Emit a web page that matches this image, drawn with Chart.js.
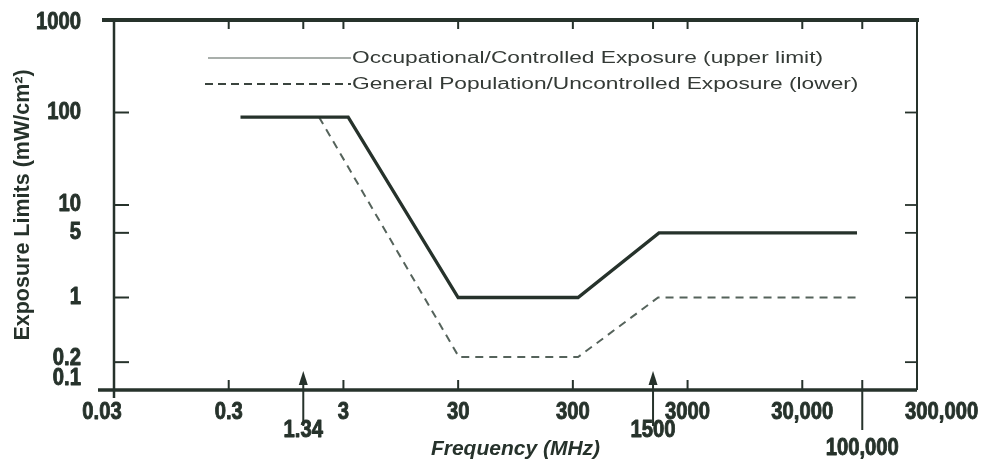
<!DOCTYPE html>
<html>
<head>
<meta charset="utf-8">
<script src="https://cdn.jsdelivr.net/npm/chart.js@4.4.1/dist/chart.umd.min.js"></script>
<style>
  html, body { margin: 0; padding: 0; background: #ffffff; }
  #wrap { width: 982px; height: 463px; position: relative; }
</style>
</head>
<body>
<div id="wrap"><canvas id="c" width="982" height="463"></canvas></div>
<script>
// ---- data ----
const occLabel = 'Occupational/Controlled Exposure (upper limit)';
const occFreq  = [0.38, 3.3, 30, 333, 1690, 90000];
const occLimit = [89, 89, 1, 1, 5, 5];

const genLabel = 'General Population/Uncontrolled Exposure (lower)';
const genFreq  = [1.84, 30.5, 333, 1660, 90000];
const genLimit = [89, 0.227, 0.227, 1, 1];

const xTickValues = [0.03, 0.3, 1.34, 3, 30, 300, 1500, 3000, 30000, 100000, 300000];
const xTickLabels = ['0.03', '0.3', '1.34', '3', '30', '300', '1500', '3000', '30,000', '100,000', '300,000'];
const xTickRows   = [0, 0, 1, 0, 0, 0, 1, 0, 0, 2, 0];
const xArrowTicks = [1.34, 1500];
const xLongTicks  = [100000];

const yTickValues = [0.1, 0.2, 1, 5, 10, 100, 1000];
const yTickLabels = ['0.1', '0.2', '1', '5', '10', '100', '1000'];

const xTitle = 'Frequency (MHz)';
const yTitle = 'Exposure Limits (mW/cm²)';

// ---- styles ----
const INK = '#26322b';
const SANS = "'Liberation Sans', Arial, sans-serif";
const TICK_FONT = 'bold 23px ' + SANS;
const TICK_SQUEEZE = 0.88;

const toPts = (xs, ys) => xs.map((x, i) => ({ x: x, y: ys[i] }));

function squeezedText(c, text, x, y, align, sx, stroke) {
  c.save();
  c.translate(x, y);
  c.scale(sx, 1);
  c.textAlign = align;
  if (stroke) { c.lineWidth = stroke; c.lineJoin = 'round'; c.strokeText(text, 0, 0); }
  c.fillText(text, 0, 0);
  c.restore();
}

const framePlugin = {
  id: 'frame',
  beforeDraw(chart) {
    const c = chart.ctx;
    c.save();
    c.fillStyle = '#ffffff';
    c.fillRect(0, 0, chart.width, chart.height);
    c.restore();
  },
  afterDraw(chart) {
    const c = chart.ctx;
    const a = chart.chartArea;
    const xs = chart.scales.x, ys = chart.scales.y;
    c.save();
    c.strokeStyle = INK;
    c.fillStyle = INK;
    c.lineCap = 'butt';
    const line = (x1, y1, x2, y2, w) => {
      c.lineWidth = w; c.beginPath(); c.moveTo(x1, y1); c.lineTo(x2, y2); c.stroke();
    };
    // frame
    line(a.left - 12, a.top, a.right + 2, a.top, 4);          // top
    line(a.left, a.top, a.left, a.bottom + 8, 2.5);           // left
    line(a.right, a.top, a.right, a.bottom, 2);               // right
    line(a.left - 16, a.bottom, a.right, a.bottom, 3.5);      // bottom
    // y ticks (inward, both sides)
    yTickValues.forEach(v => {
      if (v === ys.min || v === ys.max) return;
      const py = ys.getPixelForValue(v);
      line(a.left, py, a.left + 15, py, 2);
      line(a.right, py, a.right - 12, py, 1.8);
    });
    // x ticks
    xTickValues.forEach((v, i) => {
      if (v === xs.min || v === xs.max) return;
      const px = xs.getPixelForValue(v);
      line(px, a.top, px, a.top + 9, 2);
      if (xTickRows[i] === 0) line(px, a.bottom, px, a.bottom - 10, 2);
    });
    // arrows
    xArrowTicks.forEach(v => {
      const px = xs.getPixelForValue(v);
      line(px, a.bottom - 8, px, a.bottom + 36, 2);
      c.beginPath();
      c.moveTo(px, a.bottom - 19);
      c.lineTo(px - 4.5, a.bottom - 5);
      c.lineTo(px + 4.5, a.bottom - 5);
      c.closePath();
      c.fill();
    });
    xLongTicks.forEach(v => {
      const px = xs.getPixelForValue(v);
      line(px, a.bottom - 10, px, a.bottom + 40, 2);
    });

    // tick labels (condensed heavy bold, from the scales' own ticks)
    c.font = TICK_FONT;
    c.fillStyle = INK;
    c.strokeStyle = INK;
    c.textBaseline = 'middle';
    const nx = xs.ticks.length;
    xs.ticks.forEach((t, i) => {
      const lab = Array.isArray(t.label) ? t.label : [t.label];
      const row = lab.length - 1;
      const text = lab[row];
      let px = xs.getPixelForValue(t.value);
      let align = 'center';
      if (i === 0) px -= 12;
      if (i === nx - 1) { px -= 12; align = 'left'; }
      squeezedText(c, text, px, a.bottom + 23 + row * 18, align, TICK_SQUEEZE, 0.9);
    });
    ys.ticks.forEach((t, i) => {
      let py = ys.getPixelForValue(t.value);
      if (t.value === ys.min) py -= 11;
      if (t.value === ys.max) py += 3;
      if (i === 1) py -= 3;
      squeezedText(c, t.label, a.left - 33, py, 'right', TICK_SQUEEZE, 0.9);
    });

    // legend (drawn from dataset labels)
    const items = [
      { label: chart.data.datasets[0].label, x1: 208, y: 58, dash: [], w: 1.5, col: '#8d958f' },
      { label: chart.data.datasets[1].label, x1: 205, y: 84, dash: [8, 5], w: 2, col: '#3a443e' }
    ];
    items.forEach(it => {
      c.setLineDash(it.dash);
      c.strokeStyle = it.col;
      line(it.x1, it.y, 351, it.y, it.w);
      c.setLineDash([]);
      c.font = '16px ' + SANS;
      c.fillStyle = '#343a36';
      c.textBaseline = 'middle';
      squeezedText(c, it.label, 352, it.y + 1, 'left', 1.42, 0);
    });
    c.restore();
  }
};

new Chart(document.getElementById('c'), {
  type: 'line',
  data: {
    datasets: [
      {
        label: occLabel,
        data: toPts(occFreq, occLimit),
        borderColor: INK,
        borderWidth: 3.3,
        pointRadius: 0,
        tension: 0,
        fill: false
      },
      {
        label: genLabel,
        data: toPts(genFreq, genLimit),
        borderColor: '#55635b',
        borderWidth: 2,
        borderDash: [8, 6],
        pointRadius: 0,
        tension: 0,
        fill: false
      }
    ]
  },
  options: {
    responsive: false,
    animation: false,
    devicePixelRatio: 1,
    layout: { padding: { left: 0, top: 20, right: 65, bottom: 0 } },
    plugins: { legend: { display: false }, tooltip: { enabled: false } },
    scales: {
      x: {
        type: 'logarithmic',
        position: 'bottom',
        min: 0.03,
        max: 300000,
        grid: { display: false, drawTicks: false },
        border: { display: false },
        afterBuildTicks: s => { s.ticks = xTickValues.map(v => ({ value: v })); },
        afterFit: s => { s.height = 73; s.paddingLeft = 0; s.paddingRight = 0; },
        ticks: {
          autoSkip: false,
          maxRotation: 0,
          minRotation: 0,
          padding: 14,
          color: 'rgba(0,0,0,0)',
          font: { family: SANS, size: 24, weight: 'bold', lineHeight: 0.75 },
          callback: function (value) {
            const i = xTickValues.indexOf(value);
            if (i < 0) return '';
            const rows = xTickRows[i];
            if (rows === 0) return xTickLabels[i];
            const out = [];
            for (let k = 0; k < rows; k++) out.push('');
            out.push(xTickLabels[i]);
            return out;
          }
        },
        title: {
          display: true,
          text: xTitle,
          color: INK,
          font: { family: SANS, size: 21, weight: 'bold', style: 'italic', lineHeight: 1.2 },
          padding: { top: 0, bottom: 1 }
        }
      },
      y: {
        type: 'logarithmic',
        position: 'left',
        min: 0.1,
        max: 1000,
        grid: { display: false, drawTicks: false },
        border: { display: false },
        afterBuildTicks: s => { s.ticks = yTickValues.map(v => ({ value: v })); },
        afterFit: s => { s.width = 114; s.paddingTop = 0; s.paddingBottom = 0; },
        ticks: {
          autoSkip: false,
          padding: 35,
          color: 'rgba(0,0,0,0)',
          font: { family: SANS, size: 24, weight: 'bold', lineHeight: 1 },
          callback: function (value) {
            const i = yTickValues.indexOf(value);
            return i < 0 ? '' : yTickLabels[i];
          }
        },
        title: {
          display: true,
          text: yTitle,
          color: INK,
          font: { family: SANS, size: 21.5, weight: 'bold', lineHeight: 1.2 },
          padding: { top: 10, bottom: 0 }
        }
      }
    }
  },
  plugins: [framePlugin]
});
</script>
</body>
</html>
